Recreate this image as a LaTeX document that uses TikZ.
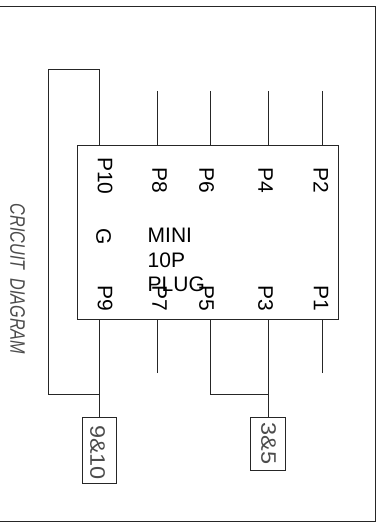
\documentclass[tikz,border=0pt]{standalone}
\usepackage{fontspec}
\setmainfont{Liberation Sans}
\usetikzlibrary{positioning, calc}
\tikzset{
    wire/.style={line width=0.9pt, black!85},
    plugbox/.style={draw=black!85, line width=0.9pt, inner sep=0pt, outer sep=0pt},
    pinlabel/.style={rotate=-90, inner sep=0pt, font=\fontsize{21}{21}\selectfont},
    thinlabel/.style={rotate=-90, inner sep=0pt, text=black!70, font=\fontsize{21}{21}\selectfont},
}

\begin{document}
\begin{tikzpicture}[x=1pt, y=-1pt]
    \useasboundingbox (0,0) rectangle (382,529);

    % outer frame, open on the left
    \coordinate (f0) at (0,6);
    \coordinate (f1) at (375,6);
    \coordinate (f2) at (375,521.5);
    \coordinate (f3) at (0,521.5);
    \draw[wire] (f0) -- (f1) -- (f2) -- (f3);

    \node[plugbox, minimum width=260.5pt, minimum height=174pt] (plug) at (207.75,232) {};

    % pin labels
    \node[pinlabel] (p10) at (105,176) {P10};
    \node[pinlabel] (p8) at (159.5,180.5) {P8};
    \node[pinlabel] (p6) at (206.5,180.5) {P6};
    \node[pinlabel] (p4) at (265.5,180.5) {P4};
    \node[pinlabel] (p2) at (321,180.5) {P2};
    \node[pinlabel] (g) at (103.5,236.5) {G};
    \node[pinlabel] (p9) at (105,298.5) {P9};
    \node[pinlabel] (p7) at (159.5,298.5) {P7};
    \node[pinlabel] (p5) at (206.5,298.5) {P5};
    \node[pinlabel] (p3) at (265.5,298.5) {P3};
    \node[pinlabel] (p1) at (321,298.5) {P1};

    \node[inner sep=0pt, anchor=west, align=left, font=\fontsize{21}{24.5}\selectfont] (name) at (147.5,260) {MINI\\10P\\PLUG};

    \node[thinlabel, xscale=0.77] (title) at (17.5,279) {\itshape CRICUIT\ \ DIAGRAM};

    % crimp boxes
    \node[plugbox, minimum width=34.5pt, minimum height=66pt] (c910) at (99.25,450) {};
    \node[thinlabel, xscale=1.12] (t910) at (97.5,452.5) {9\&10};
    \node[plugbox, minimum width=34.5pt, minimum height=53pt] (c35) at (267.75,443.5) {};
    \node[thinlabel, xscale=1.12] (t35) at (268.5,443.5) {3\&5};

    % top stubs
    \coordinate (plugtop) at (plug.north);
    \coordinate (plugbot) at (plug.south);
    \coordinate (t8) at (157,91);
    \coordinate (t6) at (210,91);
    \coordinate (t4) at (268,91);
    \coordinate (t2) at (322,91);
    \draw[wire] (t8) -- (t8 |- plugtop);
    \draw[wire] (t6) -- (t6 |- plugtop);
    \draw[wire] (t4) -- (t4 |- plugtop);
    \draw[wire] (t2) -- (t2 |- plugtop);

    % bottom stubs
    \coordinate (b7) at (157,373);
    \coordinate (b1) at (322,373);
    \draw[wire] (b7) -- (b7 |- plugbot);
    \draw[wire] (b1) -- (b1 |- plugbot);

    % shorted pins
    \coordinate (l0) at (99,69);
    \coordinate (l1) at (48.5,69);
    \coordinate (l2) at (48.5,394.5);
    \coordinate (l3) at (99,394.5);
    \draw[wire] (l0 |- plugtop) -- (l0) -- (l1) -- (l2) -- (l3);
    \draw[wire] (l0 |- plugbot) -- (l0 |- c910.north);
    \coordinate (m0) at (210,394.5);
    \coordinate (m1) at (268,394.5);
    \draw[wire] (m0 |- plugbot) -- (m0) -- (m1);
    \draw[wire] (m1 |- plugbot) -- (m1 |- c35.north);
  \end{tikzpicture}
\end{document}
